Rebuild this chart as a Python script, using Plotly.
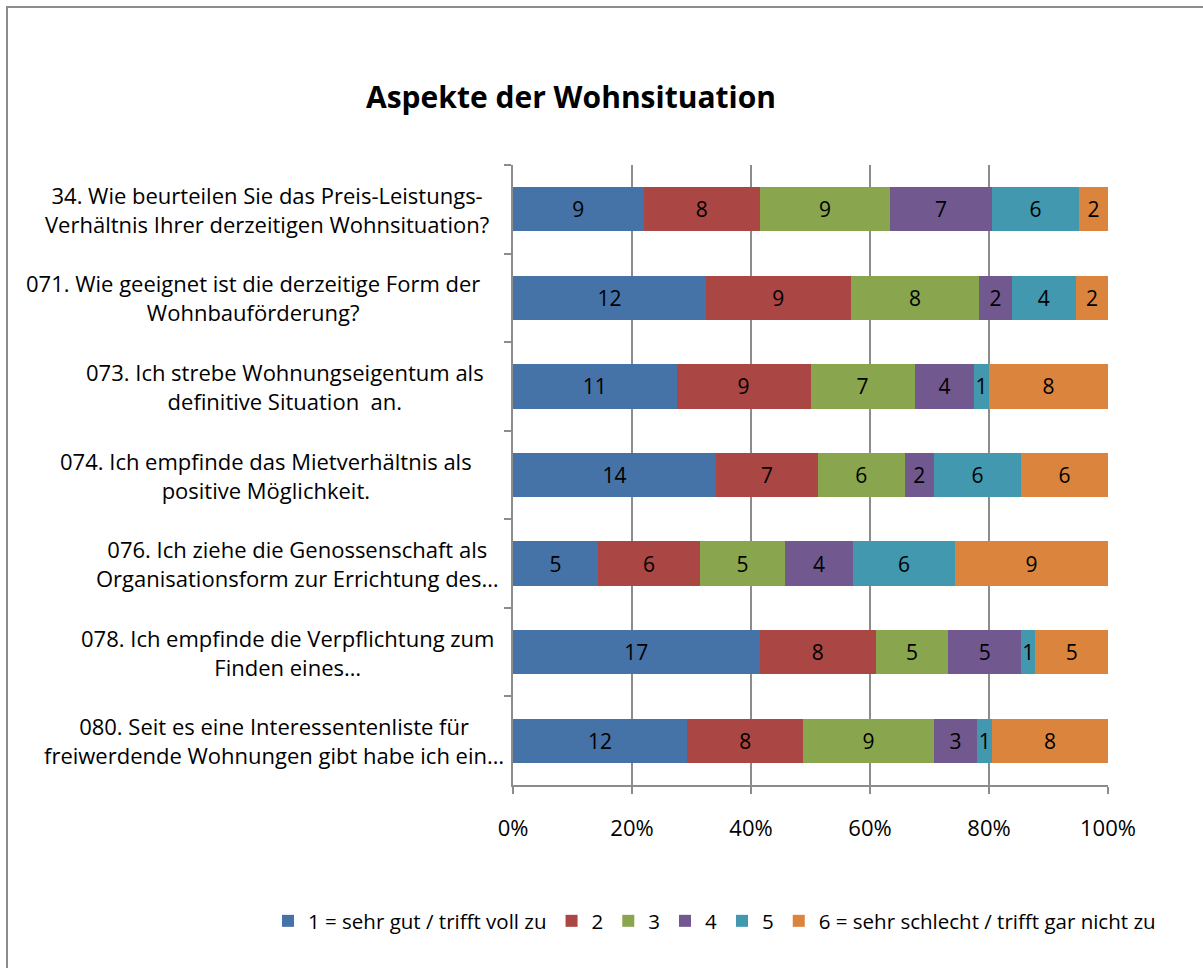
import plotly.graph_objects as go

# ---- data ----
categories = ["Q34", "Q071", "Q073", "Q074", "Q076", "Q078", "Q080"]
category_labels = [
    "34. Wie beurteilen Sie das Preis-Leistungs-<br>Verhältnis Ihrer derzeitigen Wohnsituation?",
    "071. Wie geeignet ist die derzeitige Form der<br>Wohnbauförderung?",
    "073. Ich strebe Wohnungseigentum als<br>definitive Situation  an.",
    "074. Ich empfinde das Mietverhältnis als<br>positive Möglichkeit.",
    "076. Ich ziehe die Genossenschaft als<br>Organisationsform zur Errichtung des…",
    "078. Ich empfinde die Verpflichtung zum<br>Finden eines…",
    "080. Seit es eine Interessentenliste für<br>freiwerdende Wohnungen gibt habe ich ein…",
]
series_names = [
    "1 = sehr gut / trifft voll zu",
    "2",
    "3",
    "4",
    "5",
    "6 = sehr schlecht / trifft gar nicht zu",
]
s1 = [9, 12, 11, 14, 5, 17, 12]
s2 = [8, 9, 9, 7, 6, 8, 8]
s3 = [9, 8, 7, 6, 5, 5, 9]
s4 = [7, 2, 4, 2, 4, 5, 3]
s5 = [6, 4, 1, 6, 6, 1, 1]
s6 = [2, 2, 8, 6, 9, 5, 8]
series_values = [s1, s2, s3, s4, s5, s6]
x_ticks = [0, 20, 40, 60, 80, 100]
x_tick_labels = ["0%", "20%", "40%", "60%", "80%", "100%"]

# layout: horizontal centre (page pixels) of each category label block
label_centers_px = [267, 253, 285, 266, 297, 287, 274]

colors = ["#4572A7", "#AA4643", "#89A54E", "#71588F", "#4198AF", "#DB843D"]
FONT = "Open Sans"
GRID = "#8c8c8c"

fig = go.Figure()
for name, vals, col in zip(series_names, series_values, colors):
    fig.add_trace(go.Bar(
        y=categories, x=vals, name=name, orientation="h",
        marker=dict(color=col, line=dict(width=0)),
        text=[str(v) for v in vals],
        textposition="inside", insidetextanchor="middle",
        textangle=0, constraintext="none",
        textfont=dict(family=FONT, size=21, color="#000000"),
    ))

W, H = 1203, 968
L, R, T, B = 513, 95, 165, 183
pw, ph = W - L - R, H - T - B

def px_x(px):
    return (px - L) / pw

def px_y(py):
    return (H - B - py) / ph

annotations = []
for cat, lab, cx in zip(categories, category_labels, label_centers_px):
    annotations.append(dict(
        x=px_x(cx), xref="paper", y=cat, yref="y",
        text=lab, showarrow=False, xanchor="center", yanchor="middle",
        align="center", font=dict(family=FONT, size=22, color="#000000"),
    ))

fig.update_layout(
    width=W, height=H,
    margin=dict(l=L, r=R, t=T, b=B, autoexpand=False),
    paper_bgcolor="white", plot_bgcolor="white",
    barmode="stack", barnorm="percent", bargap=0.5,
    title=dict(text="<b>Aspekte der Wohnsituation</b>", x=571 / W, xanchor="center",
               y=1 - 97 / H, yanchor="middle", yref="container",
               font=dict(family=FONT, size=30, color="#000000")),
    xaxis=dict(range=[0, 100], tickmode="array", tickvals=x_ticks, ticktext=x_tick_labels,
               showgrid=True, gridcolor=GRID, gridwidth=2,
               showline=True, linecolor=GRID, linewidth=2,
               ticks="outside", ticklen=7, tickcolor=GRID, tickwidth=2,
               ticklabelstandoff=16, zeroline=False,
               tickfont=dict(family=FONT, size=22, color="#000000")),
    yaxis=dict(type="category", autorange="reversed", showticklabels=False,
               showline=True, linecolor=GRID, linewidth=2,
               ticks="outside", ticklen=7, tickcolor=GRID, tickwidth=2,
               tickson="boundaries", showgrid=False, zeroline=False),
    legend=dict(orientation="h", x=px_x(268), xanchor="left",
                y=px_y(921), yanchor="middle", traceorder="normal",
                itemwidth=30, font=dict(family=FONT, size=20.5, color="#000000"),
                bgcolor="rgba(0,0,0,0)"),
    showlegend=True,
    annotations=annotations,
    shapes=[dict(type="rect", xref="paper", yref="paper",
                 x0=px_x(7), x1=px_x(1215), y0=px_y(980), y1=px_y(7),
                 line=dict(color=GRID, width=2), fillcolor="rgba(0,0,0,0)",
                 layer="below")],
)

fig.write_html("out.html", config={"displayModeBar": False},
               post_script="document.body.style.margin='0';")
